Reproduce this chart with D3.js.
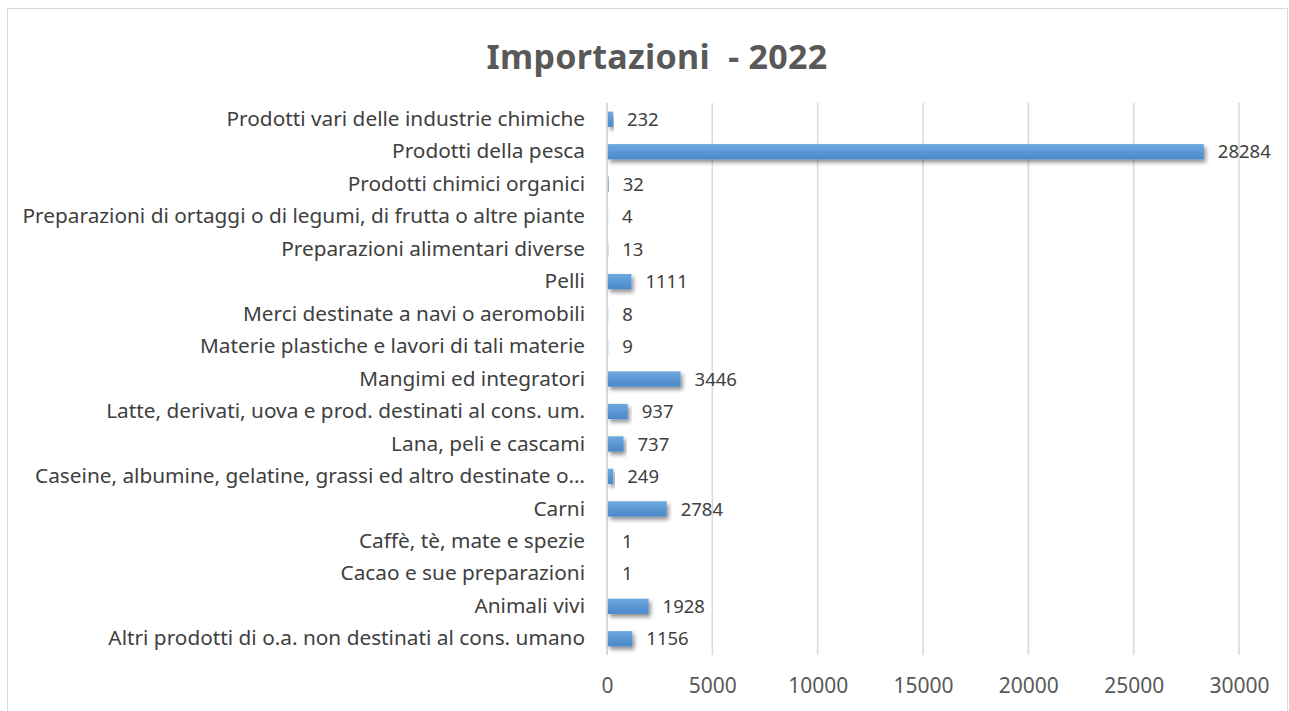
<!DOCTYPE html>
<html lang="it">
<head>
<meta charset="UTF-8">
<title>Importazioni - 2022</title>
<style>
    body {
        margin: 0;
        padding: 0;
        background-color: #fff;
        font-family: "Noto Sans", "Open Sans", sans-serif;
    }
    #chart {
        display: block;
    }
</style>
</head>
<body>
<svg id="chart" width="1289" height="711"></svg>

<script src="https://d3js.org/d3.v7.min.js"></script>
<script>
    // dati, dall'alto verso il basso
    const categories = [
        "Prodotti vari delle industrie chimiche",
        "Prodotti della pesca",
        "Prodotti chimici organici",
        "Preparazioni di ortaggi o di legumi, di frutta o altre piante",
        "Preparazioni alimentari diverse",
        "Pelli",
        "Merci destinate a navi o aeromobili",
        "Materie plastiche e lavori di tali materie",
        "Mangimi ed integratori",
        "Latte, derivati, uova e prod. destinati al cons. um.",
        "Lana, peli e cascami",
        "Caseine, albumine, gelatine, grassi ed altro destinate o…",
        "Carni",
        "Caffè, tè, mate e spezie",
        "Cacao e sue preparazioni",
        "Animali vivi",
        "Altri prodotti di o.a. non destinati al cons. umano"
    ];
    const values = [232, 28284, 32, 4, 13, 1111, 8, 9, 3446, 937, 737, 249, 2784, 1, 1, 1928, 1156];
    const xTicks = [0, 5000, 10000, 15000, 20000, 25000, 30000];
    const title = "Importazioni  - 2022";

    const svg = d3.select("#chart");

    // bordo del grafico
    svg.append("rect")
        .attr("x", 7.5).attr("y", 8.5)
        .attr("width", 1280).attr("height", 720)
        .attr("fill", "#fff")
        .attr("stroke", "#d9d9d9")
        .attr("stroke-width", 1);

    // gradiente e ombra delle barre
    const defs = svg.append("defs");
    const grad = defs.append("linearGradient")
        .attr("id", "barGrad")
        .attr("x1", 0).attr("y1", 0).attr("x2", 0).attr("y2", 1);
    grad.append("stop").attr("offset", "0%").attr("stop-color", "#6ea8de");
    grad.append("stop").attr("offset", "100%").attr("stop-color", "#4a88cc");

    const shadow = defs.append("filter")
        .attr("id", "shadow")
        .attr("x", "-10%").attr("y", "-50%")
        .attr("width", "130%").attr("height", "250%");
    shadow.append("feDropShadow")
        .attr("dx", 2).attr("dy", 3)
        .attr("stdDeviation", 2)
        .attr("flood-color", "#000")
        .attr("flood-opacity", 0.45);

    // scale
    const xScale = d3.scaleLinear()
        .domain([0, 30000])
        .range([607, 1239]);

    const yScale = d3.scaleBand()
        .domain(categories)
        .range([103, 655])
        .paddingInner(0.53)
        .paddingOuter(0.265);

    // griglia verticale
    svg.append("g")
        .selectAll("line")
        .data(xTicks)
        .join("line")
        .attr("x1", d => xScale(d))
        .attr("x2", d => xScale(d))
        .attr("y1", 103)
        .attr("y2", 655)
        .attr("stroke", "#d9d9d9")
        .attr("stroke-width", d => d === 0 ? 2 : 1.5);

    // asse x
    const xAxis = d3.axisBottom(xScale)
        .tickValues(xTicks)
        .tickSize(0)
        .tickPadding(23)
        .tickFormat(d3.format("d"));

    const gx = svg.append("g")
        .attr("transform", "translate(0, 655)")
        .call(xAxis);
    gx.select(".domain").remove();
    gx.selectAll("text")
        .attr("fill", "#595959")
        .style("font-size", "21px")
        .style("font-family", "'Noto Sans', sans-serif");

    // asse y (etichette categorie)
    const yAxis = d3.axisLeft(yScale)
        .tickSize(0)
        .tickPadding(22);

    const gy = svg.append("g")
        .attr("transform", "translate(607, 0)")
        .call(yAxis);
    gy.select(".domain").remove();
    gy.selectAll("text")
        .attr("fill", "#404040")
        .style("font-size", "20.8px")
        .style("font-family", "'Noto Sans', sans-serif");

    // barre
    svg.append("g")
        .selectAll("rect")
        .data(values)
        .join("rect")
        .attr("x", xScale(0) + 1)
        .attr("y", (d, i) => yScale(categories[i]))
        .attr("width", d => Math.max(0, xScale(d) - xScale(0)))
        .attr("height", yScale.bandwidth())
        .attr("fill", "url(#barGrad)")
        .attr("filter", "url(#shadow)");

    // etichette valori
    svg.append("g")
        .selectAll("text")
        .data(values)
        .join("text")
        .attr("x", d => xScale(d) + 15)
        .attr("y", (d, i) => yScale(categories[i]) + yScale.bandwidth() / 2)
        .attr("dy", "0.36em")
        .attr("fill", "#404040")
        .style("font-size", "18.5px")
        .text(d => d);

    // titolo
    svg.append("text")
        .attr("x", 657)
        .attr("y", 69)
        .attr("text-anchor", "middle")
        .attr("fill", "#595959")
        .style("font-size", "34px")
        .style("font-weight", "bold")
        .style("letter-spacing", "0.3px")
        .style("white-space", "pre")
        .attr("xml:space", "preserve")
        .text(title);
</script>
</body>
</html>
